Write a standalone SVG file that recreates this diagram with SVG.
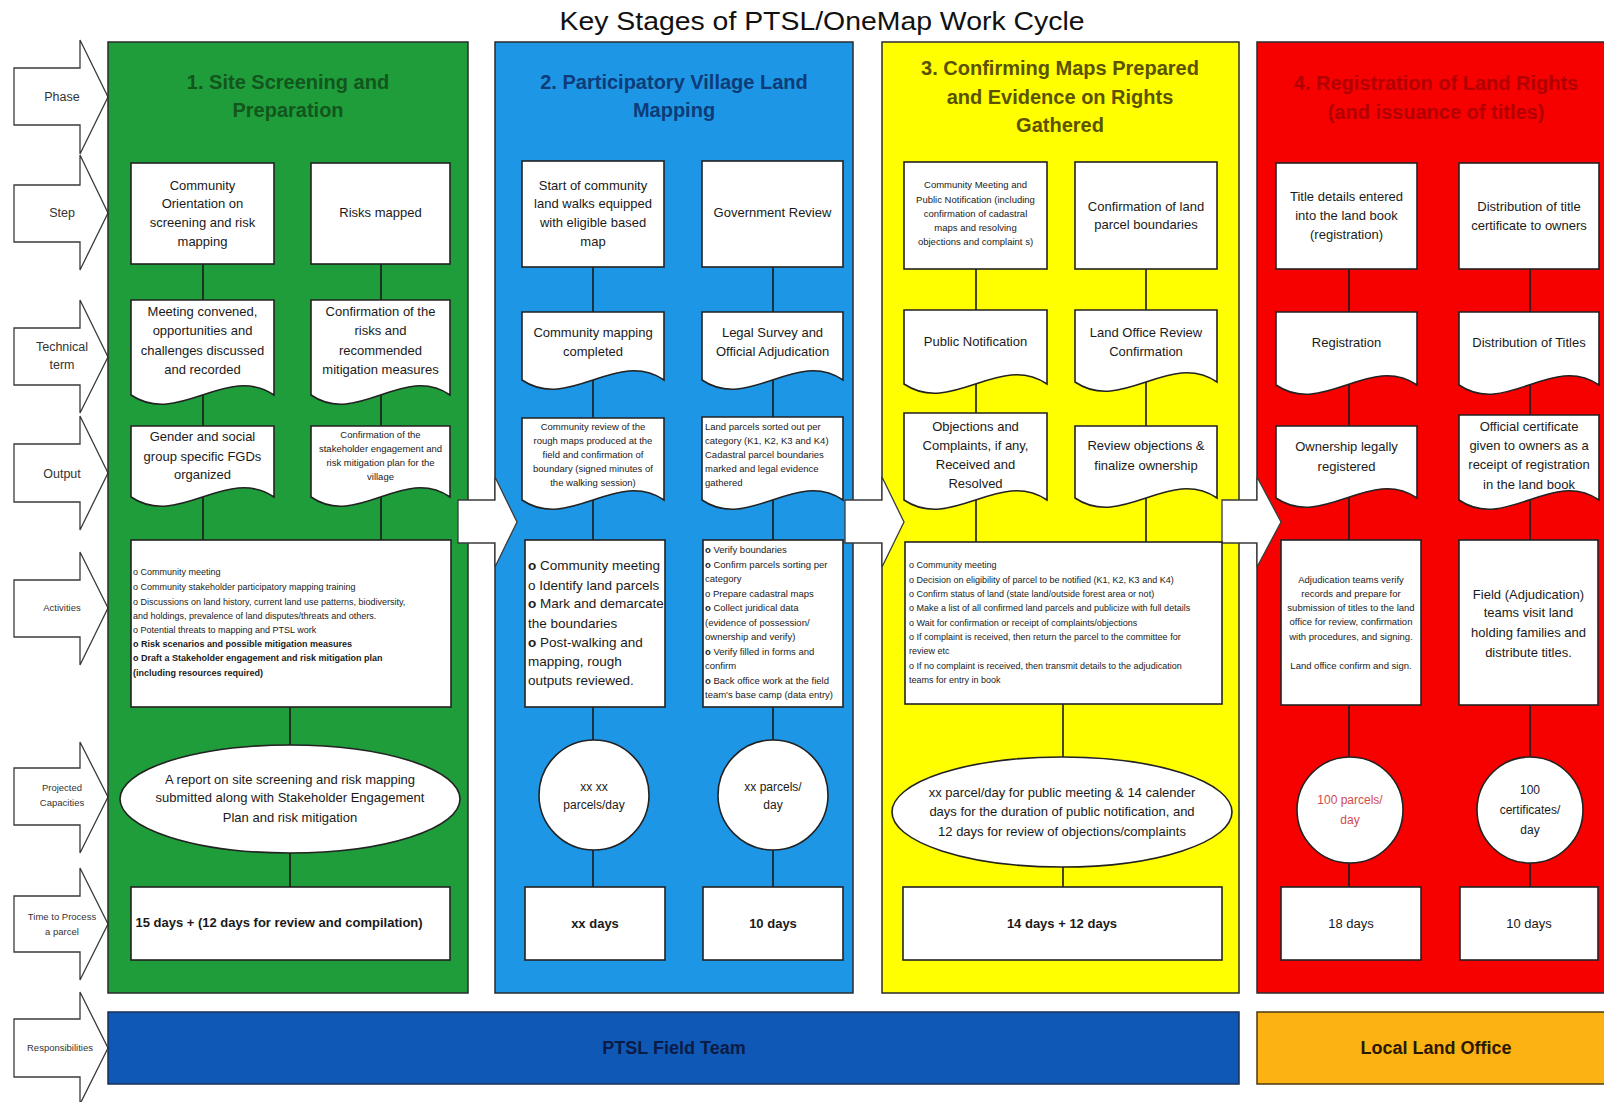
<svg xmlns="http://www.w3.org/2000/svg" width="1604" height="1102" viewBox="0 0 1604 1102">
<style>
.col{stroke:#2b2b2b;stroke-width:1.5}
.box{fill:#fff;stroke:#222;stroke-width:1.6}
.ln{stroke:#1a1a1a;stroke-width:1.6;fill:none}
.arr{fill:#fff;stroke:#3a3a3a;stroke-width:1.3}
.m{font-family:'Liberation Sans',Arial,sans-serif;font-size:13px;text-anchor:middle;fill:#1a1a1a}
.s{font-size:9.5px}
.a{font-size:9px;text-anchor:start}
.al{text-anchor:start}
.big{font-size:13.5px}
.c12{font-size:12px}
.red{fill:#D24B4B}
.b{font-weight:bold}
.h{font-family:'Liberation Sans',Arial,sans-serif;font-size:20px;font-weight:bold;text-anchor:middle}
.lab{font-family:'Liberation Sans',Arial,sans-serif;font-size:12.5px;text-anchor:middle;fill:#333}
.labs{font-size:9.5px}
.bar{font-family:'Liberation Sans',Arial,sans-serif;font-size:18px;font-weight:bold;text-anchor:middle}
</style>
<rect width="1604" height="1102" fill="#fff"/>
<g id="title">
<text x="822" y="30" font-family="'Liberation Sans',Arial,sans-serif" font-size="26" fill="#111" text-anchor="middle" textLength="525" lengthAdjust="spacingAndGlyphs">Key Stages of PTSL/OneMap Work Cycle</text>
</g>
<g id="row-labels">
<g id="label-phase"><polygon class="arr" points="14,68 80,68 80,40 108,97 80,154 80,125 14,125"/><text class="lab" x="62" y="101">Phase</text></g>
<g id="label-step"><polygon class="arr" points="14,185 80,185 80,155 108,213 80,270 80,242 14,242"/><text class="lab" x="62" y="217">Step</text></g>
<g id="label-technical"><polygon class="arr" points="14,328 80,328 80,300 108,357 80,413 80,385 14,385"/><text class="lab" x="62" y="351">Technical</text><text class="lab" x="62" y="369">term</text></g>
<g id="label-output"><polygon class="arr" points="14,444 80,444 80,416 108,473 80,530 80,502 14,502"/><text class="lab" x="62" y="478">Output</text></g>
<g id="label-activities"><polygon class="arr" points="14,580 80,580 80,552 108,608 80,665 80,637 14,637"/><text class="lab labs" x="62" y="611">Activities</text></g>
<g id="label-capacities"><polygon class="arr" points="14,768 80,768 80,742 108,797 80,853 80,825 14,825"/><text class="lab labs" x="62" y="791">Projected</text><text class="lab labs" x="62" y="806">Capacities</text></g>
<g id="label-time"><polygon class="arr" points="14,896 80,896 80,868 108,924 80,980 80,952 14,952"/><text class="lab labs" x="62" y="920">Time to Process</text><text class="lab labs" x="62" y="935">a parcel</text></g>
<g id="label-resp"><polygon class="arr" points="14,1019 80,1019 80,992 108,1048 80,1104 80,1077 14,1077"/><text class="lab labs" x="60" y="1051">Responsibilities</text></g>
</g>
<g id="col1-bg"><rect class="col" x="108" y="42" width="360" height="951" fill="#1F9D3B"/>
<text class="h" fill="#12561D"><tspan x="288" y="89">1. Site Screening and</tspan><tspan x="288" y="117">Preparation</tspan></text></g>
<g id="col2-bg"><rect class="col" x="495" y="42" width="358" height="951" fill="#1E96E6"/>
<text class="h" fill="#0D3C78"><tspan x="674" y="89">2. Participatory Village Land</tspan><tspan x="674" y="117">Mapping</tspan></text></g>
<g id="col3-bg"><rect class="col" x="882" y="42" width="357" height="951" fill="#FFFF00"/>
<text class="h" fill="#5A5200"><tspan x="1060" y="75">3. Confirming Maps Prepared</tspan><tspan x="1060" y="104">and Evidence on Rights</tspan><tspan x="1060" y="132">Gathered</tspan></text></g>
<g id="col4-bg"><rect class="col" x="1257" y="42" width="365" height="951" fill="#F60000"/>
<text class="h" fill="#B20000"><tspan x="1436" y="90">4. Registration of Land Rights</tspan><tspan x="1436" y="119">(and issuance of titles)</tspan></text></g>
<g id="connectors">
<line class="ln" x1="203" y1="264" x2="203" y2="540"/>
<line class="ln" x1="381" y1="264" x2="381" y2="540"/>
<line class="ln" x1="290" y1="707" x2="290" y2="887"/>
<line class="ln" x1="593" y1="267" x2="593" y2="887"/>
<line class="ln" x1="773" y1="267" x2="773" y2="887"/>
<line class="ln" x1="976" y1="269" x2="976" y2="542"/>
<line class="ln" x1="1146" y1="269" x2="1146" y2="542"/>
<line class="ln" x1="1063" y1="704" x2="1063" y2="887"/>
<line class="ln" x1="1349" y1="269" x2="1349" y2="887"/>
<line class="ln" x1="1530" y1="269" x2="1530" y2="887"/>
<polygon class="arr" points="458,500 495,500 495,477 517,522 495,567 495,543 458,543"/>
<polygon class="arr" points="845,500 882,500 882,477 904,522 882,567 882,543 845,543"/>
<polygon class="arr" points="1222,500 1257,500 1257,477 1281,522 1257,567 1257,543 1222,543"/>
</g>
<!-- Column 1 -->
<g id="c1-step-l"><rect class="box" x="131" y="163" width="143" height="101"/><text class="m"><tspan x="202.5" y="190">Community</tspan><tspan x="202.5" y="208">Orientation on</tspan><tspan x="202.5" y="227">screening and risk</tspan><tspan x="202.5" y="246">mapping</tspan></text></g>
<g id="c1-step-r"><rect class="box" x="311" y="163" width="139" height="101"/><text class="m" x="380.5" y="217">Risks mapped</text></g>
<g id="c1-tech-l"><path class="box" d="M131,300 H274 V395 C226.3,363 178.7,427 131,395 Z"/><text class="m"><tspan x="202.5" y="316">Meeting convened,</tspan><tspan x="202.5" y="335">opportunities and</tspan><tspan x="202.5" y="355">challenges discussed</tspan><tspan x="202.5" y="374">and recorded</tspan></text></g>
<g id="c1-tech-r"><path class="box" d="M311,300 H450 V395 C403.7,363 357.3,427 311,395 Z"/><text class="m"><tspan x="380.5" y="316">Confirmation of the</tspan><tspan x="380.5" y="335">risks and</tspan><tspan x="380.5" y="355">recommended</tspan><tspan x="380.5" y="374">mitigation measures</tspan></text></g>
<g id="c1-out-l"><path class="box" d="M131,426 H274 V497 C226.3,465 178.7,529 131,497 Z"/><text class="m"><tspan x="202.5" y="441">Gender and social</tspan><tspan x="202.5" y="461">group specific FGDs</tspan><tspan x="202.5" y="479">organized</tspan></text></g>
<g id="c1-out-r"><path class="box" d="M311,426 H450 V497 C403.7,465 357.3,529 311,497 Z"/><text class="m s"><tspan x="380.5" y="438">Confirmation of the</tspan><tspan x="380.5" y="452">stakeholder engagement and</tspan><tspan x="380.5" y="466">risk mitigation plan for the</tspan><tspan x="380.5" y="480">village</tspan></text></g>
<g id="c1-activities"><rect class="box" x="131" y="540" width="320" height="167"/><text class="m a"><tspan x="133" y="575">o Community meeting</tspan><tspan x="133" y="590">o Community stakeholder participatory mapping training</tspan><tspan x="133" y="605">o Discussions on land history, current land use patterns, biodiversity,</tspan><tspan x="133" y="619">and holdings, prevalence of land disputes/threats and others.</tspan><tspan x="133" y="633">o Potential threats to mapping and PTSL work</tspan><tspan x="133" y="647" font-weight="bold">o Risk scenarios and possible mitigation measures</tspan><tspan x="133" y="661" font-weight="bold">o Draft a Stakeholder engagement and risk mitigation plan</tspan><tspan x="133" y="676" font-weight="bold">(including resources required)</tspan></text></g>
<g id="c1-capacity"><ellipse class="box" cx="290" cy="799" rx="170" ry="54"/><text class="m"><tspan x="290" y="784">A report on site screening and risk mapping</tspan><tspan x="290" y="802">submitted along with Stakeholder Engagement</tspan><tspan x="290" y="822">Plan and risk mitigation</tspan></text></g>
<g id="c1-time"><rect class="box" x="131" y="887" width="319" height="73"/><text class="m b" x="279" y="927">15 days + (12 days for review and compilation)</text></g>
<!-- Column 2 -->
<g id="c2-step-l"><rect class="box" x="522" y="161" width="142" height="106"/><text class="m"><tspan x="593" y="190">Start of community</tspan><tspan x="593" y="208">land walks equipped</tspan><tspan x="593" y="227">with eligible based</tspan><tspan x="593" y="246">map</tspan></text></g>
<g id="c2-step-r"><rect class="box" x="702" y="161" width="141" height="106"/><text class="m" x="772.5" y="217">Government  Review</text></g>
<g id="c2-tech-l"><path class="box" d="M522,312 H664 V380 C616.7,348 569.3,412 522,380 Z"/><text class="m"><tspan x="593" y="337">Community  mapping</tspan><tspan x="593" y="356">completed</tspan></text></g>
<g id="c2-tech-r"><path class="box" d="M702,312 H843 V380 C796,348 749,412 702,380 Z"/><text class="m"><tspan x="772.5" y="337">Legal Survey and</tspan><tspan x="772.5" y="356">Official Adjudication</tspan></text></g>
<g id="c2-out-l"><path class="box" d="M522,418 H664 V500 C616.7,468 569.3,532 522,500 Z"/><text class="m s"><tspan x="593" y="430">Community review of the</tspan><tspan x="593" y="444">rough maps produced at the</tspan><tspan x="593" y="458">field and confirmation of</tspan><tspan x="593" y="472">boundary (signed minutes of</tspan><tspan x="593" y="486">the walking session)</tspan></text></g>
<g id="c2-out-r"><path class="box" d="M702,417 H843 V500 C796,468 749,532 702,500 Z"/><text class="m s al"><tspan x="705" y="430">Land parcels sorted out per</tspan><tspan x="705" y="444">category (K1, K2, K3 and K4)</tspan><tspan x="705" y="458">Cadastral parcel boundaries</tspan><tspan x="705" y="472">marked and legal evidence</tspan><tspan x="705" y="486">gathered</tspan></text></g>
<g id="c2-act-l"><rect class="box" x="525" y="540" width="140" height="167"/><text class="m big al"><tspan x="528" y="570"><tspan font-weight="bold">o</tspan> Community meeting</tspan><tspan x="528" y="590">o Identify land parcels</tspan><tspan x="528" y="608"><tspan font-weight="bold">o</tspan> Mark and demarcate</tspan><tspan x="528" y="628">the boundaries</tspan><tspan x="528" y="647"><tspan font-weight="bold">o</tspan> Post-walking and</tspan><tspan x="528" y="666">mapping, rough</tspan><tspan x="528" y="685">outputs reviewed.</tspan></text></g>
<g id="c2-act-r"><rect class="box" x="703" y="540" width="140" height="167"/><text class="m s al"><tspan x="705" y="553"><tspan font-weight="bold">o</tspan> Verify boundaries</tspan><tspan x="705" y="568"><tspan font-weight="bold">o</tspan> Confirm parcels sorting per</tspan><tspan x="705" y="582">category</tspan><tspan x="705" y="597">o Prepare cadastral maps</tspan><tspan x="705" y="611"><tspan font-weight="bold">o</tspan> Collect juridical data</tspan><tspan x="705" y="626">(evidence of possession/</tspan><tspan x="705" y="640">ownership and verify)</tspan><tspan x="705" y="655"><tspan font-weight="bold">o</tspan> Verify filled in forms and</tspan><tspan x="705" y="669">confirm</tspan><tspan x="705" y="684"><tspan font-weight="bold">o</tspan> Back office work at the field</tspan><tspan x="705" y="698">team's base camp (data entry)</tspan></text></g>
<g id="c2-cap-l"><circle class="box" cx="594" cy="795" r="55"/><text class="m c12"><tspan x="594" y="791">xx xx</tspan><tspan x="594" y="809">parcels/day</tspan></text></g>
<g id="c2-cap-r"><circle class="box" cx="773" cy="795" r="55"/><text class="m c12"><tspan x="773" y="791">xx parcels/</tspan><tspan x="773" y="809">day</tspan></text></g>
<g id="c2-time-l"><rect class="box" x="525" y="887" width="140" height="73"/><text class="m b" x="595" y="928">xx  days</text></g>
<g id="c2-time-r"><rect class="box" x="703" y="887" width="140" height="73"/><text class="m b" x="773" y="928">10 days</text></g>
<!-- Column 3 -->
<g id="c3-step-l"><rect class="box" x="904" y="162" width="143" height="107"/><text class="m s"><tspan x="975.5" y="188">Community Meeting and</tspan><tspan x="975.5" y="203">Public Notification (including</tspan><tspan x="975.5" y="217">confirmation of cadastral</tspan><tspan x="975.5" y="231">maps and resolving</tspan><tspan x="975.5" y="245">objections and complaint s)</tspan></text></g>
<g id="c3-step-r"><rect class="box" x="1075" y="162" width="142" height="107"/><text class="m"><tspan x="1146" y="211">Confirmation of land</tspan><tspan x="1146" y="229">parcel  boundaries</tspan></text></g>
<g id="c3-tech-l"><path class="box" d="M904,310 H1047 V384 C999.3,352 951.7,416 904,384 Z"/><text class="m" x="975.5" y="346">Public Notification</text></g>
<g id="c3-tech-r"><path class="box" d="M1075,310 H1217 V382 C1169.7,350 1122.3,414 1075,382 Z"/><text class="m"><tspan x="1146" y="337">Land Office Review</tspan><tspan x="1146" y="356">Confirmation</tspan></text></g>
<g id="c3-out-l"><path class="box" d="M904,413 H1047 V500 C999.3,468 951.7,532 904,500 Z"/><text class="m"><tspan x="975.5" y="431">Objections and</tspan><tspan x="975.5" y="450">Complaints, if any,</tspan><tspan x="975.5" y="469">Received and</tspan><tspan x="975.5" y="488">Resolved</tspan></text></g>
<g id="c3-out-r"><path class="box" d="M1075,426 H1217 V498 C1169.7,466 1122.3,530 1075,498 Z"/><text class="m"><tspan x="1146" y="450">Review objections &amp;</tspan><tspan x="1146" y="470">finalize ownership</tspan></text></g>
<g id="c3-activities"><rect class="box" x="905" y="542" width="317" height="162"/><text class="m a"><tspan x="909" y="568">o Community meeting</tspan><tspan x="909" y="583">o Decision on eligibility of parcel to be notified (K1, K2, K3 and K4)</tspan><tspan x="909" y="597">o Confirm status of land (state land/outside forest area or not)</tspan><tspan x="909" y="611">o Make a list of all confirmed land parcels and publicize with full details</tspan><tspan x="909" y="626">o Wait for confirmation or receipt of complaints/objections</tspan><tspan x="909" y="640">o If complaint is received, then return the parcel to the committee for</tspan><tspan x="909" y="654">review etc</tspan><tspan x="909" y="669">o If no complaint is received, then transmit details to the adjudication</tspan><tspan x="909" y="683">teams for entry in book</tspan></text></g>
<g id="c3-capacity"><ellipse class="box" cx="1062" cy="812" rx="170" ry="55"/><text class="m"><tspan x="1062" y="797">xx parcel/day for public meeting &amp; 14 calender</tspan><tspan x="1062" y="816">days for the duration of public notification, and</tspan><tspan x="1062" y="836">12 days for review of objections/complaints</tspan></text></g>
<g id="c3-time"><rect class="box" x="903" y="887" width="319" height="73"/><text class="m b" x="1062" y="928">14 days + 12 days</text></g>
<!-- Column 4 -->
<g id="c4-step-l"><rect class="box" x="1276" y="163" width="141" height="106"/><text class="m"><tspan x="1346.5" y="201">Title details entered</tspan><tspan x="1346.5" y="220">into the land book</tspan><tspan x="1346.5" y="239">(registration)</tspan></text></g>
<g id="c4-step-r"><rect class="box" x="1459" y="163" width="140" height="106"/><text class="m"><tspan x="1529" y="211">Distribution  of title</tspan><tspan x="1529" y="230">certificate to owners</tspan></text></g>
<g id="c4-tech-l"><path class="box" d="M1276,312 H1417 V385 C1370,353 1323,417 1276,385 Z"/><text class="m" x="1346.5" y="347">Registration</text></g>
<g id="c4-tech-r"><path class="box" d="M1459,312 H1599 V385 C1552.3,353 1505.7,417 1459,385 Z"/><text class="m" x="1529" y="347">Distribution of Titles</text></g>
<g id="c4-out-l"><path class="box" d="M1276,426 H1417 V498 C1370,466 1323,530 1276,498 Z"/><text class="m"><tspan x="1346.5" y="451">Ownership legally</tspan><tspan x="1346.5" y="471">registered</tspan></text></g>
<g id="c4-out-r"><path class="box" d="M1459,415 H1599 V500 C1552.3,468 1505.7,532 1459,500 Z"/><text class="m"><tspan x="1529" y="431">Official certificate</tspan><tspan x="1529" y="450">given to owners as a</tspan><tspan x="1529" y="469">receipt of registration</tspan><tspan x="1529" y="489">in the land book</tspan></text></g>
<g id="c4-act-l"><rect class="box" x="1281" y="540" width="140" height="165"/><text class="m s"><tspan x="1351" y="583">Adjudication teams verify</tspan><tspan x="1351" y="597">records and prepare for</tspan><tspan x="1351" y="611">submission of titles to the land</tspan><tspan x="1351" y="625">office for review, confirmation</tspan><tspan x="1351" y="640">with procedures, and signing.</tspan><tspan x="1351" y="669">Land office confirm and sign.</tspan></text></g>
<g id="c4-act-r"><rect class="box" x="1459" y="540" width="139" height="165"/><text class="m"><tspan x="1528.5" y="599">Field (Adjudication)</tspan><tspan x="1528.5" y="617">teams visit land</tspan><tspan x="1528.5" y="637">holding families  and</tspan><tspan x="1528.5" y="657">distribute titles.</tspan></text></g>
<g id="c4-cap-l"><circle class="box" cx="1350" cy="810" r="53"/><text class="m c12 red"><tspan x="1350" y="804">100  parcels/</tspan><tspan x="1350" y="824">day</tspan></text></g>
<g id="c4-cap-r"><circle class="box" cx="1530" cy="810" r="53"/><text class="m c12"><tspan x="1530" y="794">100</tspan><tspan x="1530" y="814">certificates/</tspan><tspan x="1530" y="834">day</tspan></text></g>
<g id="c4-time-l"><rect class="box" x="1281" y="887" width="140" height="73"/><text class="m" x="1351" y="928">18 days</text></g>
<g id="c4-time-r"><rect class="box" x="1460" y="887" width="138" height="73"/><text class="m" x="1529" y="928">10 days</text></g>
<!-- Responsibilities -->
<g id="resp-ptsl"><rect x="108" y="1012" width="1131" height="72" fill="#0F58B5" stroke="#1b2f55" stroke-width="1.5"/><text class="bar" x="674" y="1054" fill="#0A1B45">PTSL Field Team</text></g>
<g id="resp-llo"><rect x="1257" y="1012" width="365" height="72" fill="#FBB212" stroke="#4a3a10" stroke-width="1.5"/><text class="bar" x="1436" y="1054" fill="#2A1800">Local Land  Office</text></g>
</svg>
